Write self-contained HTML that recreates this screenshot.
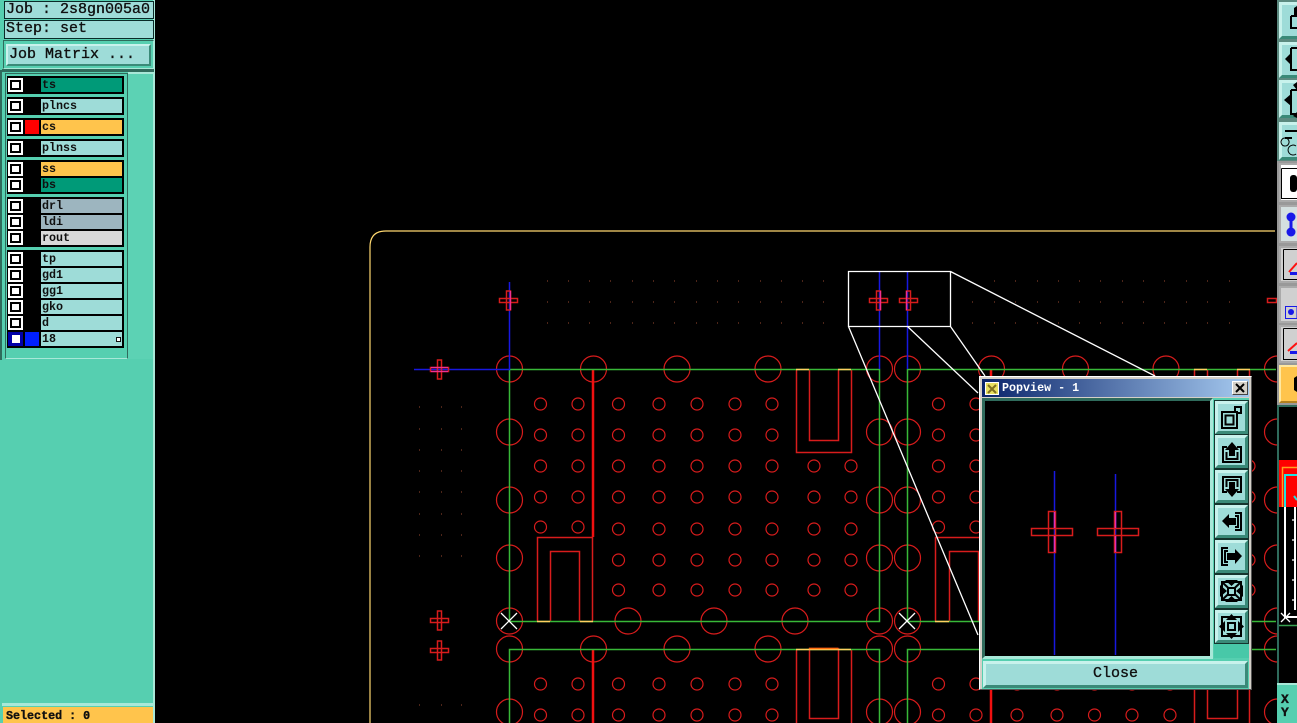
<!DOCTYPE html>
<html><head><meta charset="utf-8"><style>
html,body{margin:0;padding:0;background:#000;width:1297px;height:723px;overflow:hidden}
div{position:absolute;box-sizing:border-box}
.t{font-family:"Liberation Mono",monospace;color:#101010;white-space:pre;-webkit-text-stroke:.35px #101010}
.l{font-family:"Liberation Mono",monospace;font-weight:bold;font-size:11.7px;line-height:14px;color:#101010;padding-left:1px;left:41px;width:81px;height:14px}
.b{left:7px;width:117px;background:#000}
.c{left:8px;width:15px;height:14px;background:#fff}
.c:before{content:"";position:absolute;left:2px;top:2px;width:11px;height:10px;border:2px solid #000;box-sizing:border-box}
.a{background:#9edcd8}.g{background:#009a78}.y{background:#ffc44c}.s{background:#9db5bf}
.pb{left:1215px;width:33px;height:33px;background:#9edcd8;border:3px solid;border-color:#c8f2ec #3a8a78 #3a8a78 #c8f2ec}
.tb{left:1279px;width:30px;border:3px solid;background:#9edcd8;border-color:#c8f2ec #3a8a78 #3a8a78 #c8f2ec}
.gb{left:1279px;width:30px;border:2px solid #aaa;background:#d0d0d0}
svg{position:absolute;left:0;top:0}
</style></head><body>

<svg width="1297" height="723" viewBox="0 0 1297 723" fill="none">
<defs>
<g id="bc"><circle cy="369" r="13"/><circle cy="432" r="13"/><circle cy="500" r="13"/><circle cy="558" r="13"/><circle cy="621" r="13"/><circle cy="649" r="13"/><circle cy="712" r="13"/></g>
<g id="sa"><circle cy="404" r="6"/><circle cy="435" r="6"/><circle cy="466" r="6"/><circle cy="497" r="6"/><circle cy="529" r="6"/><circle cy="560" r="6"/><circle cy="590" r="6"/><circle cy="684" r="6"/><circle cy="715" r="6"/></g>
<g id="sb"><circle cy="404" r="6"/><circle cy="435" r="6"/><circle cy="466" r="6"/><circle cy="497" r="6"/><circle cy="527" r="6"/><circle cy="684" r="6"/><circle cy="715" r="6"/></g>
<g id="sc"><circle cy="466" r="6"/><circle cy="497" r="6"/><circle cy="529" r="6"/><circle cy="560" r="6"/><circle cy="590" r="6"/></g>
<g id="cr"><path d="M-9-2H9V2H-9zM-2-9.500H2V9.500H-2z"/></g>
</defs>
<!-- dots -->
<path stroke="#9a4a30" stroke-width="1" d="M547 281h1M568 281h1M589 281h1M610 281h1M632 281h1M653 281h1M674 281h1M696 281h1M717 281h1M738 281h1M760 281h1M781 281h1M802 281h1M823 281h1M994 281h1M1015 281h1M1037 281h1M1058 281h1M1079 281h1M1100 281h1M1122 281h1M1143 281h1M1164 281h1M1186 281h1M1207 281h1M1229 281h1
M547 302h1M568 302h1M589 302h1M610 302h1M632 302h1M653 302h1M674 302h1M696 302h1M717 302h1M738 302h1M760 302h1M781 302h1M802 302h1M823 302h1M972 302h1M994 302h1M1015 302h1M1037 302h1M1058 302h1M1079 302h1M1100 302h1M1122 302h1M1143 302h1M1164 302h1M1186 302h1M1207 302h1M1229 302h1
M547 323h1M568 323h1M589 323h1M610 323h1M632 323h1M653 323h1M674 323h1M696 323h1M717 323h1M738 323h1M760 323h1M781 323h1M802 323h1M823 323h1M972 323h1M994 323h1M1015 323h1M1037 323h1M1058 323h1M1079 323h1M1100 323h1M1122 323h1M1143 323h1M1164 323h1M1186 323h1M1207 323h1M1229 323h1
M419 407h1M441 407h1M461 407h1M419 429h1M441 429h1M461 429h1M419 450h1M441 450h1M461 450h1M419 471h1M441 471h1M461 471h1M419 492h1M441 492h1M461 492h1M419 514h1M441 514h1M461 514h1M419 535h1M441 535h1M461 535h1M419 556h1M441 556h1M461 556h1M419 705h1M441 705h1M461 705h1"/>
<!-- board outline -->
<path stroke="#ffd870" stroke-width="1.200" d="M370 723V247Q370 231 386 231H1275"/>
<!-- circles -->
<g stroke="#d81c1c" stroke-width="1.200">
<use href="#bc" x="509.500"/><use href="#bc" x="879.500"/><use href="#bc" x="907.500"/><use href="#bc" x="1277.500"/>
<circle cx="593.500" cy="369" r="13"/><circle cx="677" cy="369" r="13"/><circle cx="768" cy="369" r="13"/><circle cx="991.500" cy="369" r="13"/><circle cx="1075.500" cy="369" r="13"/><circle cx="1166" cy="369" r="13"/>
<circle cx="628" cy="621" r="13"/><circle cx="714" cy="621" r="13"/><circle cx="795" cy="621" r="13"/>
<circle cx="593.500" cy="649" r="13"/><circle cx="677" cy="649" r="13"/><circle cx="768" cy="649" r="13"/>
<use href="#sb" x="540.500"/><use href="#sb" x="578"/><use href="#sb" x="938.500"/><use href="#sb" x="976"/>
<use href="#sa" x="618.500"/><use href="#sa" x="659"/><use href="#sa" x="697"/><use href="#sa" x="735"/><use href="#sa" x="772"/>
<use href="#sa" x="1017"/><use href="#sa" x="1057"/><use href="#sa" x="1094.500"/><use href="#sa" x="1132"/><use href="#sa" x="1170"/>
<use href="#sc" x="814"/><use href="#sc" x="851"/><use href="#sc" x="1212"/><use href="#sc" x="1249"/>
</g>
<!-- U shapes -->
<g stroke="#d81c1c" stroke-width="1.500">
<path d="M537.500 621V537.500H592.500V621M550.500 621V551.500H579.500V621"/>
<path d="M796.500 369V452.500H851.500V369M809.500 369V440.500H838.500V369"/>
<path d="M796.500 649V723M851.500 649V723M809.500 648.500H838.500V718.500H809.500Z"/>
<path d="M935.500 621V537.500H990.500V621M949.500 621V551.500H978.500V621"/>
<path d="M1194.500 369V723M1249.500 369V723M1207.500 369V718.500H1237.500V369"/>
<use href="#cr" x="439.500" y="620.500"/><use href="#cr" x="439.500" y="650.500"/>
<rect x="1267.500" y="298.500" width="9" height="4"/>
</g>
<path stroke="#f01010" stroke-width="2.500" d="M593 369V537M593 649V723M991 369V378M991 680V723"/>
<!-- green -->
<path stroke="#38b838" stroke-width="1.500" d="M509.500 369.500H879.500V621.500H509.500ZM907.500 723V649.500H1276M1276 369.500H907.500V621.500H1276M509.500 723V649.500H879.500V723"/>
<!-- yellow segments -->
<path stroke="#ffd060" stroke-width="1.500" d="M537 621.500H550M580 621.500H593M796 369.500H809M838 369.500H851M796 649.500H851M935 621.500H949M1194 369.500H1207M1237 369.500H1250"/>
<path stroke="#ff7010" stroke-width="1.500" d="M809 648.500H838"/>
<!-- blue -->
<path stroke="#1818e0" stroke-width="1.500" d="M509.500 282V369.500H414M879.500 272V369M907.500 272V369"/>
<!-- crosses -->
<g stroke="#d81c1c" stroke-width="1.500"><use href="#cr" x="508.500" y="300.500"/><use href="#cr" x="439.500" y="369.500"/><use href="#cr" x="878.500" y="300.500"/><use href="#cr" x="908.500" y="300.500"/></g>
<path stroke="#f03090" stroke-width="1.300" d="M510.500 291V310M880.500 291V310M906.500 291V310M431 367.500H448M431 371.500H448"/>
<!-- white -->
<path stroke="#fff" stroke-width="1.300" d="M848.500 271.500H950.500V326.500H848.500ZM950.500 271.500L1155 376M950.500 326.500L985 376M907.500 326.500L978 393M848.500 326.500L978 635M501 613L517 629M517 613L501 629M899 613L915 629M915 613L899 629"/>
</svg>

<!-- LEFT PANEL -->
<div style="left:0;top:0;width:155px;height:723px;background:#56cfb0;border-right:2px solid #a8e8d8"></div>
<div style="left:0;top:70px;width:2px;height:290px;background:#2f6b5c"></div>
<div style="left:4px;top:1px;width:150px;height:18px;background:#9edcd8;border:1px solid #0a2a28"></div>
<div style="left:4px;top:20px;width:150px;height:19px;background:#9edcd8;border:1px solid #0a2a28"></div>
<div class="t" style="left:6px;top:1px;font-size:15px;line-height:18px">Job : 2s8gn005a0</div>
<div class="t" style="left:6px;top:20px;font-size:15px;line-height:18px">Step: set</div>
<div style="left:3px;top:40px;width:151px;height:29px;border:1px solid;border-color:#2f6b5c #a8e8d8 #a8e8d8 #2f6b5c"></div>
<div style="left:6px;top:44px;width:145px;height:22px;background:#9edcd8;border:2px solid;border-color:#c8f2ec #3a8a78 #3a8a78 #c8f2ec"></div>
<div class="t" style="left:9px;top:45px;font-size:15px;line-height:20px">Job Matrix ...</div>
<div style="left:2px;top:69px;width:152px;height:3px;background:#2f6b5c"></div>
<div style="left:5px;top:73px;width:123px;height:286px;border:1px solid;border-color:#2f6b5c #2f6b5c #a8e8d8 #2f6b5c"></div>
<div style="left:128px;top:72px;width:25px;height:287px;background:#5cd2b4;border-top:2px solid #a8e8d8"></div>

<div class="b" style="top:76px;height:18px"></div>
<div class="b" style="top:97px;height:18px"></div>
<div class="b" style="top:118px;height:18px"></div>
<div class="b" style="top:139px;height:18px"></div>
<div class="b" style="top:160px;height:34px"></div>
<div class="b" style="top:197px;height:50px"></div>
<div class="b" style="top:250px;height:98px"></div>

<div class="c" style="top:78px"></div><div class="l g" style="top:78px">ts</div>
<div class="c" style="top:99px"></div><div class="l a" style="top:99px">plncs</div>
<div class="c" style="top:120px"></div><div style="left:25px;top:120px;width:14px;height:14px;background:#f00"></div><div class="l y" style="top:120px">cs</div>
<div class="c" style="top:141px"></div><div class="l a" style="top:141px">plnss</div>
<div class="c" style="top:162px"></div><div class="l y" style="top:162px">ss</div>
<div class="c" style="top:178px"></div><div class="l g" style="top:178px">bs</div>
<div class="c" style="top:199px"></div><div class="l s" style="top:199px">drl</div>
<div class="c" style="top:215px"></div><div class="l s" style="top:215px">ldi</div>
<div class="c" style="top:231px"></div><div class="l" style="top:231px;background:#d8d8d8">rout</div>
<div class="c" style="top:252px"></div><div class="l a" style="top:252px">tp</div>
<div class="c" style="top:268px"></div><div class="l a" style="top:268px">gd1</div>
<div class="c" style="top:284px"></div><div class="l a" style="top:284px">gg1</div>
<div class="c" style="top:300px"></div><div class="l a" style="top:300px">gko</div>
<div class="c" style="top:316px"></div><div class="l a" style="top:316px">d</div>
<div style="left:8px;top:332px;width:15px;height:14px;background:#0000a8"></div><div style="left:12px;top:335px;width:8px;height:8px;background:#fff"></div>
<div style="left:25px;top:332px;width:14px;height:14px;background:#0020ff"></div><div class="l a" style="top:332px">18</div>
<div style="left:116px;top:337px;width:5px;height:5px;border:1px solid #111;background:#fff"></div>

<div style="left:2px;top:703px;width:152px;height:3px;background:#a8e8d8"></div>
<div style="left:3px;top:707px;width:150px;height:16px;background:#ffc44c"></div>
<div class="t" style="left:6px;top:709px;font-size:11.7px;line-height:14px;font-weight:bold">Selected : 0</div>

<!-- RIGHT TOOLBAR -->
<div style="left:1277px;top:0;width:20px;height:405px;background:#5c8a80"></div>
<div class="tb" style="top:2px;height:37px"></div>
<div class="tb" style="top:42px;height:36px"></div>
<div class="tb" style="top:80px;height:38px"></div>
<div class="tb" style="top:122px;height:38px"></div>
<div style="left:1277px;top:161px;width:20px;height:244px;background:#999"></div>
<div class="gb" style="top:163px;height:39px;background:#fff"></div>
<div class="gb" style="top:205px;height:38px;background:#d4e0e0"></div>
<div class="gb" style="top:246px;height:37px"></div>
<div class="gb" style="top:286px;height:37px"></div>
<div class="gb" style="top:325px;height:38px"></div>
<div class="gb" style="top:365px;height:38px;background:#ffc44c;border-color:#ffe8a0 #b08020 #b08020 #ffe8a0"></div>
<div style="left:1277px;top:405px;width:20px;height:278px;background:#000;border-left:2px solid #2f6b5c;border-top:2px solid #2f6b5c"></div>
<div style="left:1279px;top:460px;width:18px;height:47px;background:#f00"></div>
<div style="left:1277px;top:683px;width:20px;height:40px;background:#56cfb0;border-top:2px solid #a8e8d8"></div>
<div class="t" style="left:1281px;top:693px;font-size:13px;line-height:13px;font-weight:bold">X
Y</div>

<!-- POPVIEW -->
<div style="left:979px;top:376px;width:273px;height:314px;background:#d4d0c8;border:1px solid #fff;border-right-color:#555;border-bottom-color:#555"></div>
<div style="left:982px;top:379px;width:267px;height:18px;background:linear-gradient(90deg,#0a246a,#a6caf0)"></div>
<div class="t" style="left:1002px;top:381px;font-size:11.7px;line-height:14px;font-weight:bold;color:#fff;-webkit-text-stroke:0">Popview - 1</div>
<div style="left:985px;top:382px;width:14px;height:13px;background:#e8e060;border:1px solid #fff"></div>
<div style="left:1232px;top:381px;width:16px;height:14px;background:#d4d0c8;border:1px solid;border-color:#fff #444 #444 #fff"></div>
<div style="left:982px;top:398px;width:267px;height:291px;background:#56cfb0"></div>
<div style="left:982px;top:398px;width:231px;height:261px;background:#000;border:3px solid;border-color:#2f6b5c #a8e8d8 #a8e8d8 #2f6b5c"></div>
<div style="left:1214px;top:400px;width:35px;height:244px;background:#15352e"></div>
<div class="pb" style="top:401px"></div>
<div class="pb" style="top:435px"></div>
<div class="pb" style="top:470px"></div>
<div class="pb" style="top:505px"></div>
<div class="pb" style="top:540px"></div>
<div class="pb" style="top:575px"></div>
<div class="pb" style="top:610px"></div>
<div style="left:1214px;top:644px;width:35px;height:14px;background:#48c8a8"></div>
<div style="left:983px;top:661px;width:265px;height:27px;background:#9edcd8;border:3px solid;border-color:#c8f2ec #3a8a78 #3a8a78 #c8f2ec"></div>
<div class="t" style="left:1093px;top:664px;font-size:15px;line-height:20px">Close</div>

<svg width="1297" height="723" viewBox="0 0 1297 723" fill="none">
<!-- popview canvas -->
<path stroke="#1818e0" stroke-width="1.500" d="M1054.500 471V655M1115.500 474V655"/>
<path stroke="#d81c1c" stroke-width="1.500" d="M1031.500 528.500H1072.500V535.500H1031.500ZM1048.500 511.500H1055.500V552.500H1048.500ZM1097.500 528.500H1138.500V535.500H1097.500ZM1114.500 511.500H1121.500V552.500H1114.500Z"/>
<path stroke="#e030b0" stroke-width="1.500" d="M1054.500 512V528M1054.500 536V552M1115.500 512V528M1115.500 536V552"/>
<!-- title close & icon -->
<path stroke="#000" stroke-width="2" d="M1236 384L1244 392M1244 384L1236 392"/>
<path stroke="#807020" stroke-width="2" d="M988 385L996 393M996 385L988 393"/>
<!-- popview button icons -->
<g stroke="#000" stroke-width="2">
<path d="M1222 412H1237V428H1222ZM1235 413V407H1241V413H1236M1225.500 415.500H1233.500V424.500H1225.500Z"/>
<path d="M1227 447H1223V462H1241V447H1237M1226.500 452V459H1237.500V452"/>
<path d="M1227 492H1223V477H1241V492H1237M1226.500 487V480H1237.500V487"/>
<path d="M1235 513H1241V530H1235M1235 516H1238V527H1235" />
<path d="M1228 548H1222V565H1228M1228 551H1225V562H1228"/>
<path d="M1222 582H1241V600H1222ZM1222 582L1241 600M1241 582L1222 600"/>
<path d="M1222 617H1241V636H1222ZM1228 623H1235V630H1228Z"/>
</g>
<g fill="#000">
<path d="M1232 442L1239 450H1235V456H1229V450H1225Z"/>
<path d="M1232 497L1239 489H1235V482H1229V489H1225Z"/>
<path d="M1222 521L1229 514V518H1236V525H1229V528Z"/>
<path d="M1242 556L1235 549V553H1227V560H1235V564Z"/>
<path d="M1227 591L1220 585V597ZM1236 591L1243 585V597ZM1231.500 586L1225 580H1238ZM1231.500 596L1225 602H1238Z"/>
<rect x="1228" y="588" width="7" height="7" fill="#9edcd8" stroke="#000" stroke-width="2"/>
<path d="M1231.500 614L1226 620H1237ZM1231.500 639L1226 633H1237ZM1219 626.500L1225 621V632ZM1244 626.500L1238 621V632Z"/>
</g>
<!-- toolbar icons -->
<g stroke="#000" stroke-width="2">
<path d="M1291 16H1297M1291 16V28H1297"/>
<path d="M1291 48H1297M1291 48V70H1297"/>
<path d="M1291 90H1297M1291 90V114H1297"/>
<path d="M1285 131H1297M1285 138H1292"/>
</g>
<g fill="#000">
<path d="M1294 8L1297 6V16H1294Z"/>
<path d="M1285 59L1292 52V66Z"/>
<path d="M1284 100L1291 94V106Z"/>
<path d="M1293 85L1297 82V90ZM1293 116L1297 112V118Z"/>
<rect x="1290" y="175" width="7" height="17" rx="3"/>
<path d="M1294 378L1297 376V392L1294 390Z"/>
</g>
<path stroke="#000" d="M1285 146a4 4 0 1 1 0.100 0M1296 146a5 5 0 1 0 0.100 8M1281.500 168.500H1297M1281.500 168.500V198.500H1297M1283.500 249.500H1297M1283.500 249.500V279.500H1297M1283.500 328.500H1297M1283.500 328.500V359.500H1297"/>
<g fill="#1818e8"><circle cx="1291" cy="217" r="4.500"/><circle cx="1291" cy="232" r="4.500"/><rect x="1289.500" y="217" width="3" height="15"/><rect x="1290" y="272" width="7" height="3"/><rect x="1290" y="351" width="7" height="3"/><circle cx="1291" cy="312" r="3"/></g>
<path stroke="#1818e8" d="M1285.500 306.500H1297V318.500H1285.500Z"/>
<path stroke="#ff1010" stroke-width="2" d="M1289 272L1297 263M1288 351L1297 343"/>
<!-- mini board -->
<path stroke="#ffa020" stroke-width="1.500" d="M1282.500 507V467.500H1297"/>
<path stroke="#20e0e0" stroke-width="2" d="M1285 507V475H1297"/>
<path stroke="#fff" stroke-width="2" d="M1285 507V617H1297M1295 507V610"/>
<path stroke="#fff" stroke-width="1.300" d="M1281 613L1290 622M1290 613L1281 622M1292 520h4M1292 540h4M1292 560h4M1292 580h4M1292 600h4"/>
<path stroke="#38a050" stroke-width="1.500" d="M1279 625.500H1297"/>
<path stroke="#20e0e0" stroke-width="2" d="M1294 496L1297 500"/>
</svg>
</body></html>
